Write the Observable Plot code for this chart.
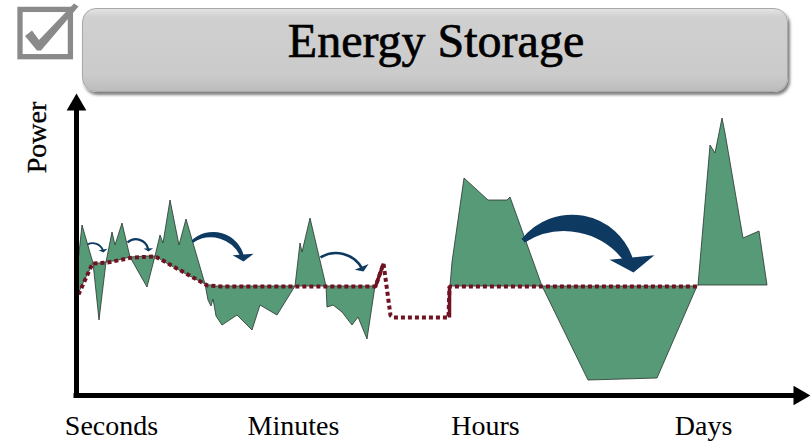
<!DOCTYPE html>
<html>
<head>
<meta charset="utf-8">
<script src="https://cdn.jsdelivr.net/npm/d3@7"></script>
<script src="https://cdn.jsdelivr.net/npm/@observablehq/plot@0.6"></script>
<style>
  html, body { margin: 0; padding: 0; background: #fff; }
  #wrap { position: relative; width: 810px; height: 441px; overflow: hidden; }
  #chart svg { display: block; }
  .title-box {
    position: absolute; left: 82px; top: 8px; width: 704px; height: 82px;
    border-radius: 14px;
    background: linear-gradient(to bottom, #e4e4e4 0%, #d0d0d0 10%, #cbcbcb 80%, #bcbcbc 100%);
    border: 1px solid #a8a8a8;
    box-shadow: 2px 3px 3px rgba(0,0,0,0.5);
  }
  .title-text {
    position: absolute; left: 82px; top: 17px; width: 708px; text-align: center;
    font: 48px/48px "Liberation Serif", serif; color: #000;
    -webkit-text-stroke: 0.7px #000;
  }
  .check { position: absolute; left: 0; top: 0; }
</style>
</head>
<body>
<div id="wrap">
  <div id="chart"></div>
  <div class="title-box"></div>
  <div class="title-text">Energy Storage</div>
  <svg class="check" width="82" height="70" viewBox="0 0 82 70">
    <rect x="20" y="9.4" width="50.4" height="47.3" fill="none" stroke="#8a8a8a" stroke-width="5.3"/>
    <path d="M25,36 L32,30.5 L39,40 L74,3.5 L78.5,6.5 L41,50.5 L37,50.5 Z" fill="#8a8a8a"/>
  </svg>
</div>
<script>
// ---------- data ----------
const xLabels = ["Seconds", "Minutes", "Hours", "Days"];
const xLabelTime = [35, 217, 409, 627];
const yLabel = "Power";

// seconds / minutes: time, power demand, level served (baseline)
const secMinTime  = [2, 6, 17, 23, 30, 36, 39, 46, 54, 71, 79, 84, 87, 94, 103, 110, 129, 132, 135, 137, 140, 146, 161, 176, 184, 201, 219, 224, 226, 234, 250, 251, 257, 266, 276, 282, 291, 299];
const secMinPower = [133, 170, 132, 75, 133, 163, 150, 172, 138, 108, 139, 160, 152, 195, 150, 176, 111, 95, 89, 96, 79, 70, 80, 65, 90, 80, 109, 152, 143, 177, 109, 88, 90, 83, 70, 78, 56, 109];
const secMinBase  = [101, 110, 132, 132, 133, 134, 134, 136, 138, 139, 139, 136, 134, 130, 125, 121, 111, 110, 110, 109, 109, 109, 109, 109, 109, 109, 109, 109, 109, 109, 109, 109, 109, 109, 109, 109, 109, 109];

// hours
const hoursTime  = [374, 376, 388, 412, 431, 434, 466, 512, 581, 621];
const hoursPower = [109, 133, 217, 195, 195, 198, 109, 15, 17, 109];
const hoursBase  = [109, 109, 109, 109, 109, 109, 109, 109, 109, 109];

// days
const daysTime  = [622, 634, 639, 646, 649, 667, 683, 691];
const daysPower = [110, 250, 242, 277, 262, 157, 164, 110];
const daysBase  = [110, 110, 110, 110, 110, 110, 110, 110];

// served level (dotted line)
const levelTime  = [2, 16, 31, 56, 79, 131, 144, 299, 307, 314, 317, 372, 373, 621];
const levelPower = [101, 132, 133, 138, 139, 110, 109, 109, 132, 80, 78, 78, 109, 109];

// solid ramps of the served level
const rampFromTime = [299, 373], rampFromPower = [109, 78];
const rampToTime   = [307, 373], rampToPower   = [132, 109];

// energy shifts (curved arrows)
const shiftFromTime  = [11, 51, 116, 244, 447];
const shiftFromPower = [151, 153, 154, 138, 155];
const shiftToTime    = [27, 72, 167, 287, 557];
const shiftToPower   = [143, 144, 134, 124, 123];

// ---------- styles ----------
const style = {
  green: "#579a78", outline: "#27332c", maroon: "#6f1322", navy: "#0e3a62",
  font: "'Liberation Serif', serif",
  arrowBends: [[55], [65], [54, 60, 65], [50], [48, 52, 56, 60, 64, 68]],
  arrowWidth: [1.8, 2.2, 2.5, 2.6, 4.5],
  headSize: [3, 3.2, 7, 5, 15]
};

// ---------- build tables ----------
const areaRows = [
  ...secMinTime.map((t, i) => ({seg: "secmin", t, power: secMinPower[i], base: secMinBase[i]})),
  ...hoursTime.map((t, i) => ({seg: "hours", t, power: hoursPower[i], base: hoursBase[i]})),
  ...daysTime.map((t, i) => ({seg: "days", t, power: daysPower[i], base: daysBase[i]}))
];
const levelRows = levelTime.map((t, i) => ({t, p: levelPower[i]}));
const rampRows = rampFromTime.map((t, i) => ({x1: t, y1: rampFromPower[i], x2: rampToTime[i], y2: rampToPower[i]}));
const shiftRows = shiftFromTime.map((t, i) => ({x1: t, y1: shiftFromPower[i], x2: shiftToTime[i], y2: shiftToPower[i]}));

const xMax = 734, yMax = 302;

// arrowhead symbols: tip at origin, pointing up
const wideHead = {draw(ctx, size) { const r = Math.sqrt(size / Math.PI); ctx.moveTo(0, 0); ctx.lineTo(1.5 * r, r); ctx.lineTo(-1.5 * r, r); ctx.closePath(); }};
const axisHead = {draw(ctx, size) { const r = Math.sqrt(size / Math.PI); ctx.moveTo(0, 0); ctx.lineTo(0.58 * r, r); ctx.lineTo(-0.58 * r, r); ctx.closePath(); }};

const arrowMarks = [];
shiftRows.forEach((d, i) => {
  const bends = style.arrowBends[i];
  bends.forEach(b => {
    arrowMarks.push(Plot.arrow([d], {
      x1: "x1", y1: "y1", x2: "x2", y2: "y2", bend: b, headLength: 0,
      insetEnd: style.headSize[i] * 0.8, stroke: style.navy,
      strokeWidth: style.arrowWidth[i], strokeLinecap: "butt"
    }));
  });
  const maxBend = Math.max(...bends);
  const lineAngle = Math.atan2(-(d.y2 - d.y1), d.x2 - d.x1) * 180 / Math.PI;
  arrowMarks.push(Plot.dot([d], {
    x: "x2", y: "y2", r: style.headSize[i], symbol: wideHead,
    rotate: () => lineAngle + maxBend + 90, fill: style.navy, stroke: "none"
  }));
});

const chart = Plot.plot({
  width: 810, height: 441,
  marginLeft: 76, marginRight: 0, marginTop: 93, marginBottom: 46,
  x: {domain: [0, xMax]},
  y: {domain: [0, yMax], axis: null},
  style: {background: "transparent", fontFamily: style.font, color: "#000"},
  marks: [
    Plot.areaY(areaRows, {x: "t", y1: "base", y2: "power", z: "seg", fill: style.green, stroke: style.outline, strokeWidth: 0.8, curve: "linear"}),
    Plot.line(levelRows, {x: "t", y: "p", stroke: style.maroon, strokeWidth: 4, strokeDasharray: "4,3", strokeLinecap: "butt", strokeLinejoin: "miter"}),
    Plot.link(rampRows, {x1: "x1", y1: "y1", x2: "x2", y2: "y2", stroke: style.maroon, strokeWidth: 3.5}),
    ...arrowMarks,
    Plot.ruleX([0], {y1: -2.5, y2: yMax - 15, stroke: "#000", strokeWidth: 5}),
    Plot.ruleY([0], {x1: -2.5, x2: xMax - 15, stroke: "#000", strokeWidth: 5}),
    Plot.dot([{x: 0, y: yMax, rot: 0}, {x: xMax, y: 0, rot: 90}], {x: "x", y: "y", r: 17, symbol: axisHead, rotate: "rot", fill: "#000", stroke: "none"}),
    Plot.axisX(xLabelTime, {tickFormat: d => xLabels[xLabelTime.indexOf(d)], tickSize: 0, tickPadding: 20, fontSize: 28, fontFamily: style.font, label: null, stroke: "#000", strokeWidth: 0.35}),
    Plot.text([yLabel], {x: -39, y: 258, text: d => d, rotate: -90, fontSize: 28, fontFamily: style.font, textAnchor: "middle", lineAnchor: "middle", fill: "#000", stroke: "#000", strokeWidth: 0.35})
  ]
});
document.getElementById("chart").appendChild(chart);
</script>
</body>
</html>
